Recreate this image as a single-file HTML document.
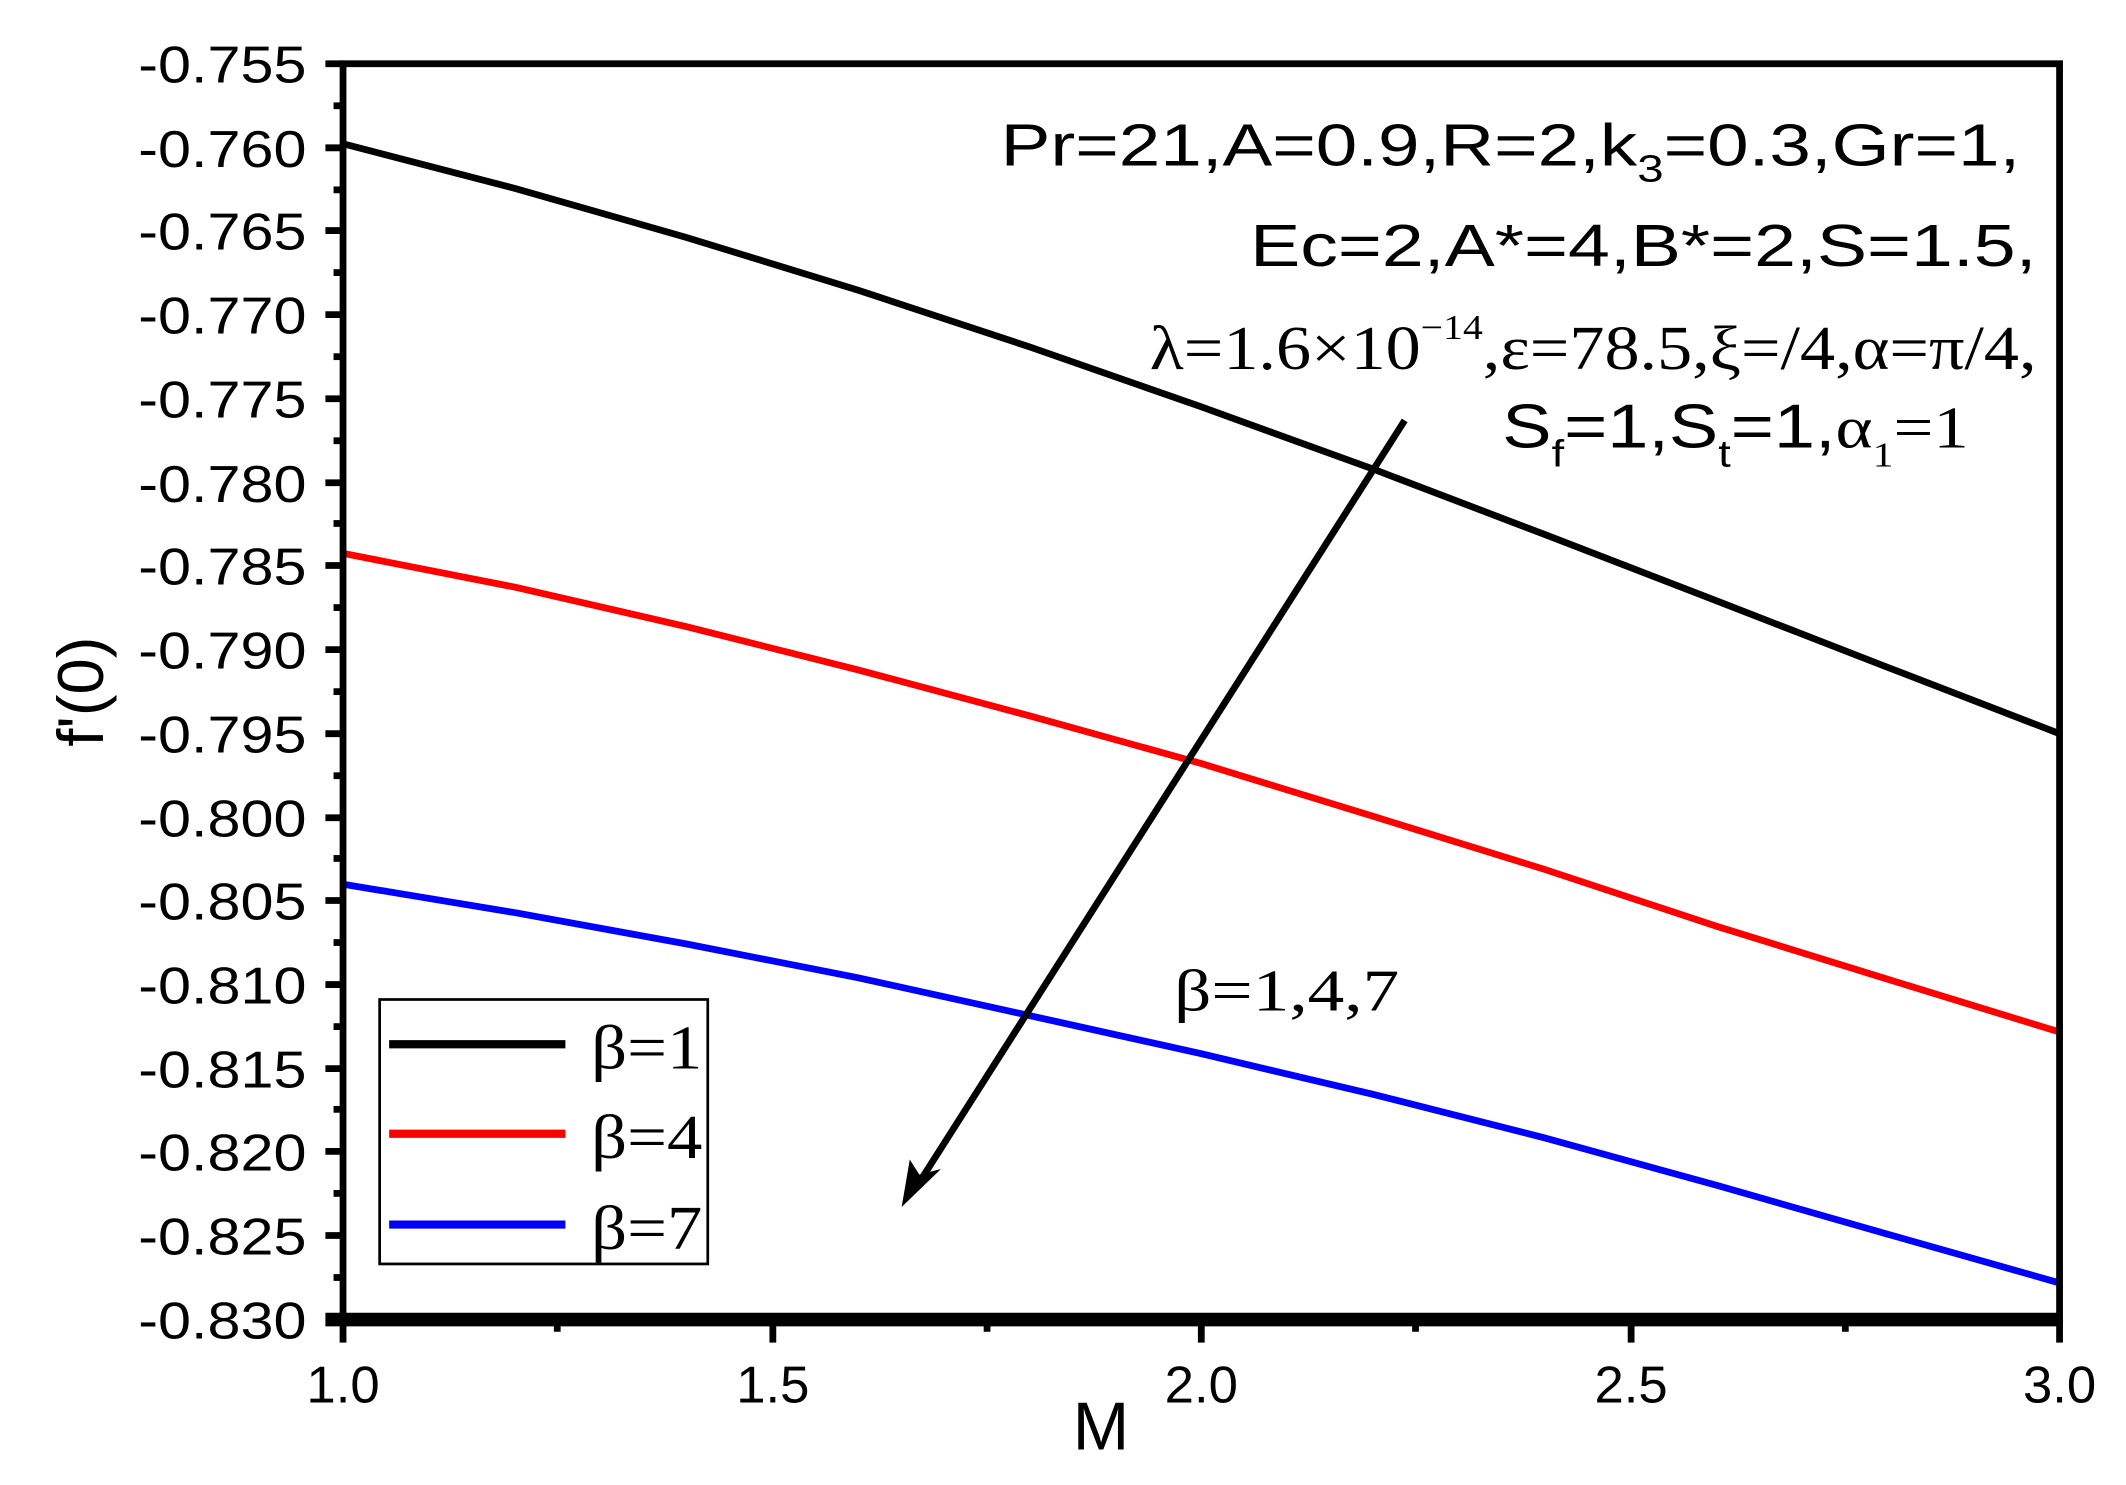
<!DOCTYPE html>
<html><head><style>html,body{margin:0;padding:0;background:#fff}svg{display:block}</style></head>
<body>
<svg width="2126" height="1485" viewBox="0 0 1568 1095" preserveAspectRatio="none" xmlns="http://www.w3.org/2000/svg" font-family="Liberation Sans, Arial, sans-serif">
<rect width="1568" height="1095" fill="#fff"/>
<polyline fill="none" stroke="#000" stroke-width="5" points="253,106 380,139 506,175 633,214 760,256 886,300 1013,346 1139,394 1266,443 1392,492 1519,541"/>
<polyline fill="none" stroke="#f00" stroke-width="5" points="253,408 380,433 506,462 633,494 760,528 886,563 1013,602 1139,641 1266,683 1392,722 1519,761"/>
<polyline fill="none" stroke="#00f" stroke-width="5" points="253,652 380,673 506,696 633,721 760,749 886,777 1013,807 1139,839 1266,874 1392,910 1519,946"/>
<rect x="253" y="47" width="1266" height="926" fill="none" stroke="#000" stroke-width="5"/>
<line x1="240" y1="973" x2="1521" y2="973" stroke="#000" stroke-width="10"/>
<g stroke="#000" stroke-width="5">
<line x1="240" y1="47" x2="253" y2="47"/><line x1="240" y1="109" x2="253" y2="109"/><line x1="240" y1="170" x2="253" y2="170"/><line x1="240" y1="232" x2="253" y2="232"/><line x1="240" y1="294" x2="253" y2="294"/><line x1="240" y1="356" x2="253" y2="356"/><line x1="240" y1="417" x2="253" y2="417"/><line x1="240" y1="479" x2="253" y2="479"/><line x1="240" y1="541" x2="253" y2="541"/><line x1="240" y1="603" x2="253" y2="603"/><line x1="240" y1="664" x2="253" y2="664"/><line x1="240" y1="726" x2="253" y2="726"/><line x1="240" y1="788" x2="253" y2="788"/><line x1="240" y1="849" x2="253" y2="849"/><line x1="240" y1="911" x2="253" y2="911"/>
<line x1="246" y1="78" x2="253" y2="78"/><line x1="246" y1="140" x2="253" y2="140"/><line x1="246" y1="201" x2="253" y2="201"/><line x1="246" y1="263" x2="253" y2="263"/><line x1="246" y1="325" x2="253" y2="325"/><line x1="246" y1="386" x2="253" y2="386"/><line x1="246" y1="448" x2="253" y2="448"/><line x1="246" y1="510" x2="253" y2="510"/><line x1="246" y1="572" x2="253" y2="572"/><line x1="246" y1="633" x2="253" y2="633"/><line x1="246" y1="695" x2="253" y2="695"/><line x1="246" y1="757" x2="253" y2="757"/><line x1="246" y1="818" x2="253" y2="818"/><line x1="246" y1="880" x2="253" y2="880"/><line x1="246" y1="942" x2="253" y2="942"/>
<line x1="253" y1="973" x2="253" y2="990"/><line x1="570" y1="973" x2="570" y2="990"/><line x1="886" y1="973" x2="886" y2="990"/><line x1="1203" y1="973" x2="1203" y2="990"/><line x1="1519" y1="973" x2="1519" y2="990"/>
<line x1="411" y1="973" x2="411" y2="982"/><line x1="728" y1="973" x2="728" y2="982"/><line x1="1044" y1="973" x2="1044" y2="982"/><line x1="1361" y1="973" x2="1361" y2="982"/>
</g>
<g font-size="38" text-anchor="end">
<text x="226" y="61" textLength="124" lengthAdjust="spacingAndGlyphs">-0.755</text>
<text x="226" y="123" textLength="124" lengthAdjust="spacingAndGlyphs">-0.760</text>
<text x="226" y="184" textLength="124" lengthAdjust="spacingAndGlyphs">-0.765</text>
<text x="226" y="246" textLength="124" lengthAdjust="spacingAndGlyphs">-0.770</text>
<text x="226" y="308" textLength="124" lengthAdjust="spacingAndGlyphs">-0.775</text>
<text x="226" y="370" textLength="124" lengthAdjust="spacingAndGlyphs">-0.780</text>
<text x="226" y="431" textLength="124" lengthAdjust="spacingAndGlyphs">-0.785</text>
<text x="226" y="493" textLength="124" lengthAdjust="spacingAndGlyphs">-0.790</text>
<text x="226" y="555" textLength="124" lengthAdjust="spacingAndGlyphs">-0.795</text>
<text x="226" y="617" textLength="124" lengthAdjust="spacingAndGlyphs">-0.800</text>
<text x="226" y="678" textLength="124" lengthAdjust="spacingAndGlyphs">-0.805</text>
<text x="226" y="740" textLength="124" lengthAdjust="spacingAndGlyphs">-0.810</text>
<text x="226" y="802" textLength="124" lengthAdjust="spacingAndGlyphs">-0.815</text>
<text x="226" y="863" textLength="124" lengthAdjust="spacingAndGlyphs">-0.820</text>
<text x="226" y="925" textLength="124" lengthAdjust="spacingAndGlyphs">-0.825</text>
<text x="226" y="987" textLength="124" lengthAdjust="spacingAndGlyphs">-0.830</text>
</g>
<g font-size="38" text-anchor="middle">
<text x="253" y="1034" textLength="54" lengthAdjust="spacingAndGlyphs">1.0</text><text x="570" y="1034" textLength="54" lengthAdjust="spacingAndGlyphs">1.5</text><text x="886" y="1034" textLength="54" lengthAdjust="spacingAndGlyphs">2.0</text><text x="1203" y="1034" textLength="54" lengthAdjust="spacingAndGlyphs">2.5</text><text x="1519" y="1034" textLength="54" lengthAdjust="spacingAndGlyphs">3.0</text>
</g>
<text x="812" y="1069" font-size="50" text-anchor="middle">M</text>
<text transform="translate(76,510) rotate(-90)" font-size="48" text-anchor="middle">f'(0)</text>
<rect x="280" y="737" width="242" height="195" fill="#fff" stroke="#000" stroke-width="2"/>
<line x1="287" y1="770" x2="417" y2="770" stroke="#000" stroke-width="6"/>
<line x1="287" y1="836" x2="417" y2="836" stroke="#f00" stroke-width="6"/>
<line x1="287" y1="903" x2="417" y2="903" stroke="#00f" stroke-width="6"/>
<g font-family="Liberation Serif, serif" font-size="46">
<text x="436" y="788" textLength="82" lengthAdjust="spacingAndGlyphs">β=1</text>
<text x="436" y="854" textLength="82" lengthAdjust="spacingAndGlyphs">β=4</text>
<text x="436" y="921" textLength="82" lengthAdjust="spacingAndGlyphs">β=7</text>
</g>
<line x1="1036" y1="310" x2="676" y2="875" stroke="#000" stroke-width="5"/>
<polygon points="665,890 671,855 678,866 694,862" fill="#000"/>
<text x="866" y="745" font-family="Liberation Serif, serif" font-size="44" textLength="166" lengthAdjust="spacingAndGlyphs">β=1,4,7</text>
<text x="738" y="122" font-size="44" textLength="752" lengthAdjust="spacingAndGlyphs">Pr=21,A=0.9,R=2,k<tspan font-size="28" dy="12">3</tspan><tspan dy="-12">=0.3,Gr=1,</tspan></text>
<text x="922" y="196" font-size="44" textLength="580" lengthAdjust="spacingAndGlyphs">Ec=2,A*=4,B*=2,S=1.5,</text>
<text x="848" y="272" font-family="Liberation Serif, serif" font-size="46" textLength="654" lengthAdjust="spacingAndGlyphs">λ=1.6×10<tspan font-size="26" dy="-22">−14</tspan><tspan dy="22">,ε=78.5,ξ=/4,α=π/4,</tspan></text>
<text x="1108" y="330" font-size="46" textLength="344" lengthAdjust="spacingAndGlyphs">S<tspan font-size="28" dy="14">f</tspan><tspan dy="-14">=1,S</tspan><tspan font-size="28" dy="14">t</tspan><tspan dy="-14">=1,</tspan><tspan font-family="Liberation Serif, serif" font-size="44">α</tspan><tspan font-family="Liberation Serif, serif" font-size="26" dy="14">1</tspan><tspan font-family="Liberation Serif, serif" font-size="44" dy="-14">=1</tspan></text>
</svg>
</body></html>
